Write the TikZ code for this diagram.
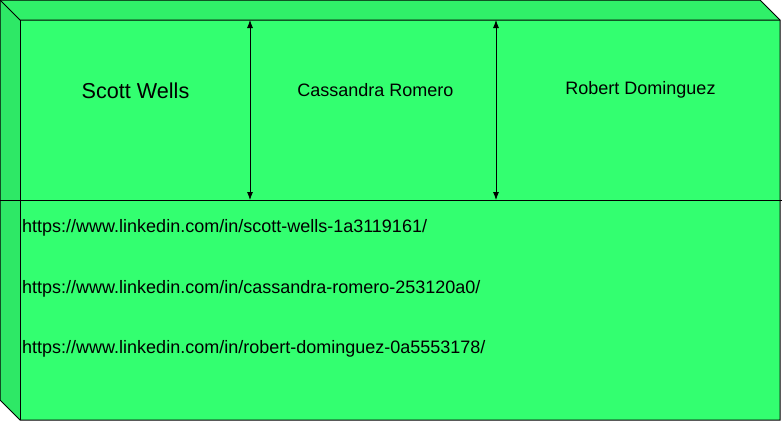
\documentclass[tikz,border=0pt]{standalone}
\usepackage{fontspec}
\setmainfont{Liberation Sans}
\usetikzlibrary{arrows.meta}
\definecolor{frontgreen}{RGB}{51,255,112}
\definecolor{topgreen}{RGB}{48,240,105}
\definecolor{leftgreen}{RGB}{46,232,102}
\tikzset{
  cubeedge/.style={draw=black,line width=1pt},
  dblarrow/.style={line width=0.8pt,{Latex[length=8pt,width=6pt]}-{Latex[length=8pt,width=6pt]}},
  namelbl/.style={inner sep=0pt,font=\fontsize{18}{22}\selectfont},
  bignamelbl/.style={inner sep=0pt,font=\fontsize{21.6}{26}\selectfont},
  urllbl/.style={inner sep=0pt,anchor=west,font=\fontsize{18}{22}\selectfont}
}
\begin{document}
\begin{tikzpicture}[x=1pt,y=-1pt]
\useasboundingbox (0,0) rectangle (784,421);
% faces
\fill[frontgreen] (20,20) rectangle (780,420);
\fill[topgreen] (0,0) -- (760,0) -- (780,20) -- (20,20) -- cycle;
\fill[leftgreen] (0,0) -- (20,20) -- (20,420) -- (0,400) -- cycle;
\draw[cubeedge,line join=miter] (0,0) -- (760,0) -- (780,20) -- (780,420) -- (20,420) -- (0,400) -- cycle;
\draw[cubeedge] (0,0) -- (20,20) -- (780,20);
\draw[cubeedge] (20,20) -- (20,420);
% divider
\coordinate (dl) at (0,200);
\coordinate (dr) at (782,200);
\draw[cubeedge] (dl) -- (dr);
% arrows
\coordinate (a1t) at (250,20);
\coordinate (a1b) at (250,200);
\coordinate (a2t) at (496,20);
\coordinate (a2b) at (496,200);
\draw[dblarrow] (a1t) -- (a1b);
\draw[dblarrow] (a2t) -- (a2b);
% names
\node[bignamelbl] (scott) at (135.5,90.5) {Scott Wells};
\node[namelbl] (cass) at (375.5,90) {Cassandra Romero};
\node[namelbl] (rob) at (640.5,90) {Robert Dominguez};
% urls
\node[urllbl] (u1) at (22,228) {https://www.linkedin.com/in/scott-wells-1a3119161/};
\node[urllbl] (u2) at (22,289) {https://www.linkedin.com/in/cassandra-romero-253120a0/};
\node[urllbl] (u3) at (22,349) {https://www.linkedin.com/in/robert-dominguez-0a5553178/};
\end{tikzpicture}
\end{document}
